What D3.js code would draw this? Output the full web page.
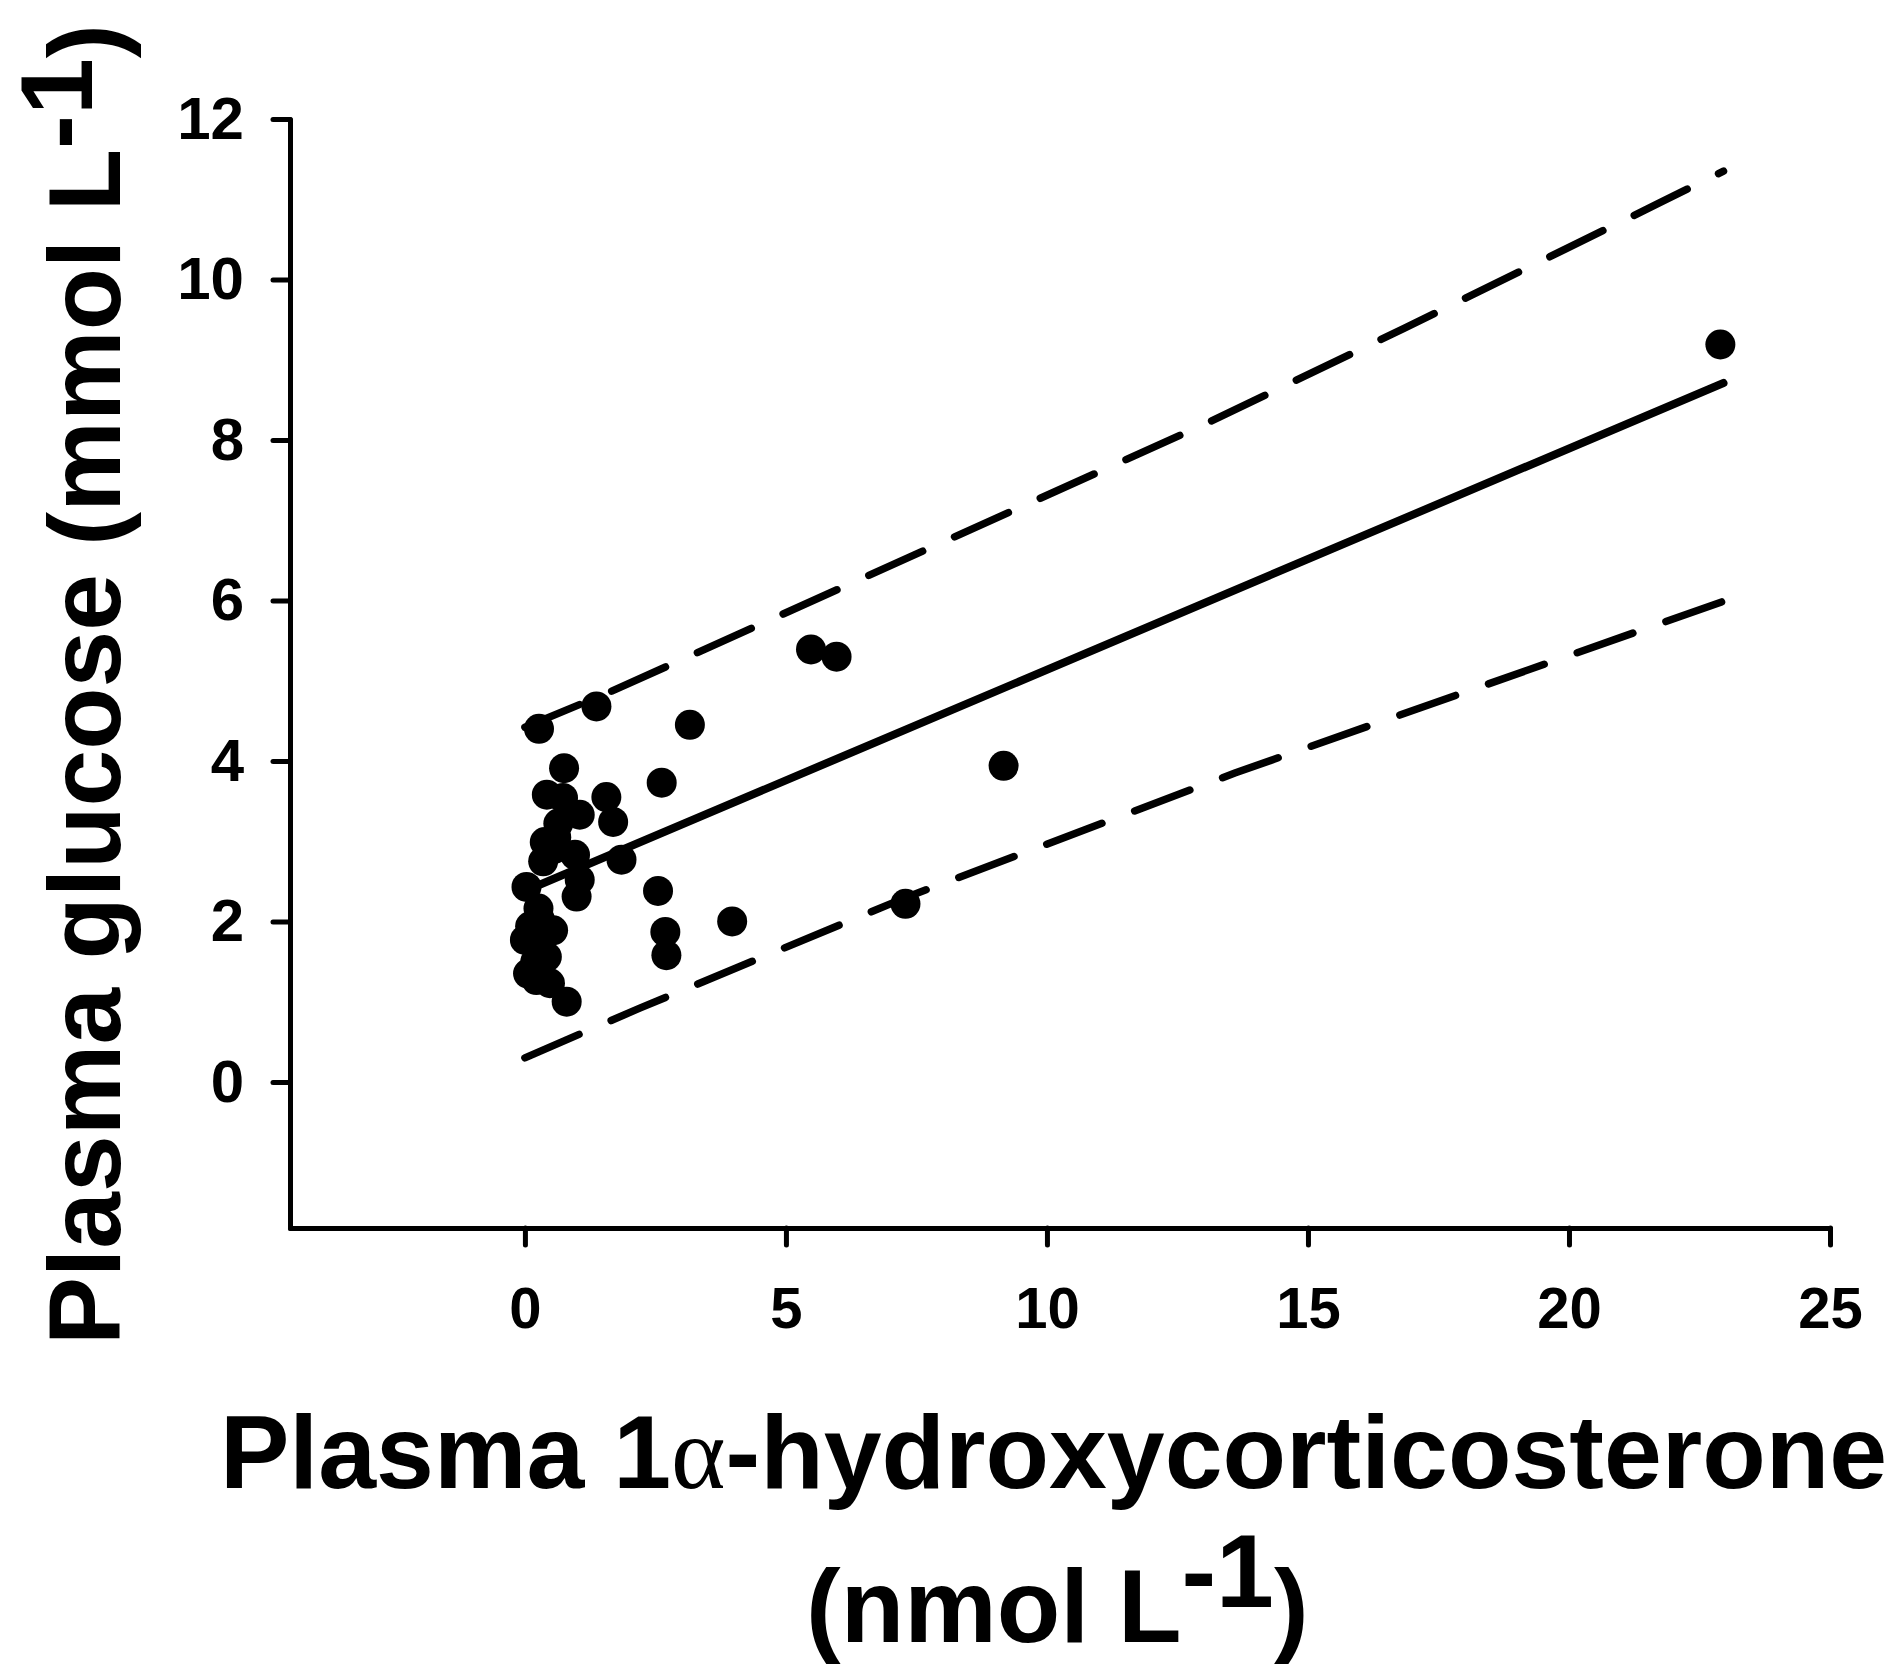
<!DOCTYPE html>
<html>
<head>
<meta charset="utf-8">
<script src="https://cdn.jsdelivr.net/npm/d3@7"></script>
<style>
    body { margin: 0; background: #fff; }
    svg { display: block; }
    text { font-family: 'Liberation Sans', Arial, sans-serif; font-weight: bold; fill: #000; }
</style>
</head>
<body>
<svg id="chart" width="1900" height="1666"></svg>
<script>
// points: 1a-hydroxycorticosterone (nmol/L) vs glucose (mmol/L)
const hormone = [
    0.27, 1.37, 0.75, 0.42, 0.73, 1.56, 1.05, 1.69, 0.64, 0.38,
    0.96, 0.35, 1.85, 1.05, 0.99, 0.03, 0.26, 0.54, 0.10, 0.00,
    0.42, 0.06, 0.48, 0.80, 0.22, 0.60, 0.29, 0.30, 0.20, 0.55,
    3.16, 2.62, 2.55, 2.69, 2.71, 3.97, 5.48, 5.97, 7.29, 9.17, 22.9
];
const glucose = [
    4.40, 4.68, 3.91, 3.58, 3.54, 3.55, 3.33, 3.24, 3.22, 2.99,
    2.83, 2.75, 2.77, 2.52, 2.31, 2.43, 2.16, 1.89, 1.94, 1.77,
    1.56, 1.35, 1.23, 1.00, 1.27, 3.05, 2.02, 1.75, 1.50, 2.90,
    4.45, 3.73, 2.38, 1.87, 1.58, 2.00, 5.39, 5.30, 2.22, 3.94, 9.19
];

// regression line and the two dashed bands
const fitLine = [[0, 2.38], [22.96, 8.71]];
const upperBand = [[0, 4.42], [1.63, 4.86], [13.0, 8.19], [16.84, 9.39], [21.75, 10.96], [22.96, 11.35]];
const lowerBand = [[0, 0.30], [2.2, 0.92], [7.3, 2.30], [13.6, 3.85], [22.96, 5.99]];

const xTicks = [0, 5, 10, 15, 20, 25];
const yTicks = [0, 2, 4, 6, 8, 10, 12];

const svg = d3.select('#chart');

const xScale = d3.scaleLinear()
    .domain([-4.5, 25])
    .range([290, 1830]);
const yScale = d3.scaleLinear()
    .domain([-1.82, 12])
    .range([1228, 119]);

const xAxis = d3.axisBottom(xScale)
    .tickValues(xTicks)
    .tickFormat(d3.format('d'))
    .tickSize(17)
    .tickSizeOuter(0)
    .tickPadding(42);
const yAxis = d3.axisLeft(yScale)
    .tickValues(yTicks)
    .tickFormat(d3.format('d'))
    .tickSize(17)
    .tickSizeOuter(0)
    .tickPadding(29);

const gx = svg.append('g')
    .attr('transform', `translate(0,${yScale.range()[0]})`)
    .call(xAxis);
const gy = svg.append('g')
    .attr('transform', `translate(${xScale.range()[0]},0)`)
    .call(yAxis);

[gx, gy].forEach(g => {
    g.select('.domain')
        .attr('stroke', '#000')
        .attr('stroke-width', 5)
        .attr('stroke-linecap', 'round');
    g.selectAll('.tick line')
        .attr('stroke', '#000')
        .attr('stroke-width', 5)
        .attr('stroke-linecap', 'round');
    g.selectAll('.tick text')
        .attr('fill', '#000')
        .style('font-family', "'Liberation Sans', Arial, sans-serif")
        .style('font-weight', 'bold');
});
gx.selectAll('.tick text').style('font-size', '58px');
gy.selectAll('.tick text').style('font-size', '60px');

// lines
const line = d3.line()
    .x(d => xScale(d[0]))
    .y(d => yScale(d[1]));

svg.append('path')
    .datum(fitLine)
    .attr('d', line)
    .attr('fill', 'none')
    .attr('stroke', '#000')
    .attr('stroke-width', 8)
    .attr('stroke-linecap', 'round');

svg.selectAll('.band')
    .data([upperBand, lowerBand])
    .enter()
    .append('path')
    .classed('band', true)
    .attr('d', line)
    .attr('fill', 'none')
    .attr('stroke', '#000')
    .attr('stroke-width', 7.5)
    .attr('stroke-linecap', 'round')
    .attr('stroke-dasharray', '59 35');

// points
svg.selectAll('.dot')
    .data(hormone.map((h, i) => ({ x: h, y: glucose[i] })))
    .enter()
    .append('circle')
    .classed('dot', true)
    .attr('cx', d => xScale(d.x))
    .attr('cy', d => yScale(d.y))
    .attr('r', 15)
    .attr('fill', '#000');

// Y axis label
const yLabel = svg.append('text')
    .attr('transform', 'translate(120,1345) rotate(-90)')
    .style('font-size', '102px');
yLabel.append('tspan').text('Plasma glucose (mmol L');
yLabel.append('tspan').attr('dy', -28).text('-1');
yLabel.append('tspan').attr('dy', 28).text(')');

// X axis label, two lines
const xLabel1 = svg.append('text')
    .attr('x', 220)
    .attr('y', 1488)
    .style('font-size', '104px');
xLabel1.append('tspan').text('Plasma 1');
xLabel1.append('tspan')
    .style('font-family', "'Liberation Serif', 'Times New Roman', serif")
    .style('font-weight', 'normal')
    .text('α');
xLabel1.append('tspan').text('-hydroxycorticosterone');

const xLabel2 = svg.append('text')
    .attr('x', 806)
    .attr('y', 1642)
    .style('font-size', '104px');
xLabel2.append('tspan').text('(nmol L');
xLabel2.append('tspan').attr('dy', -35).text('-1');
xLabel2.append('tspan').attr('dy', 35).text(')');
</script>
</body>
</html>
